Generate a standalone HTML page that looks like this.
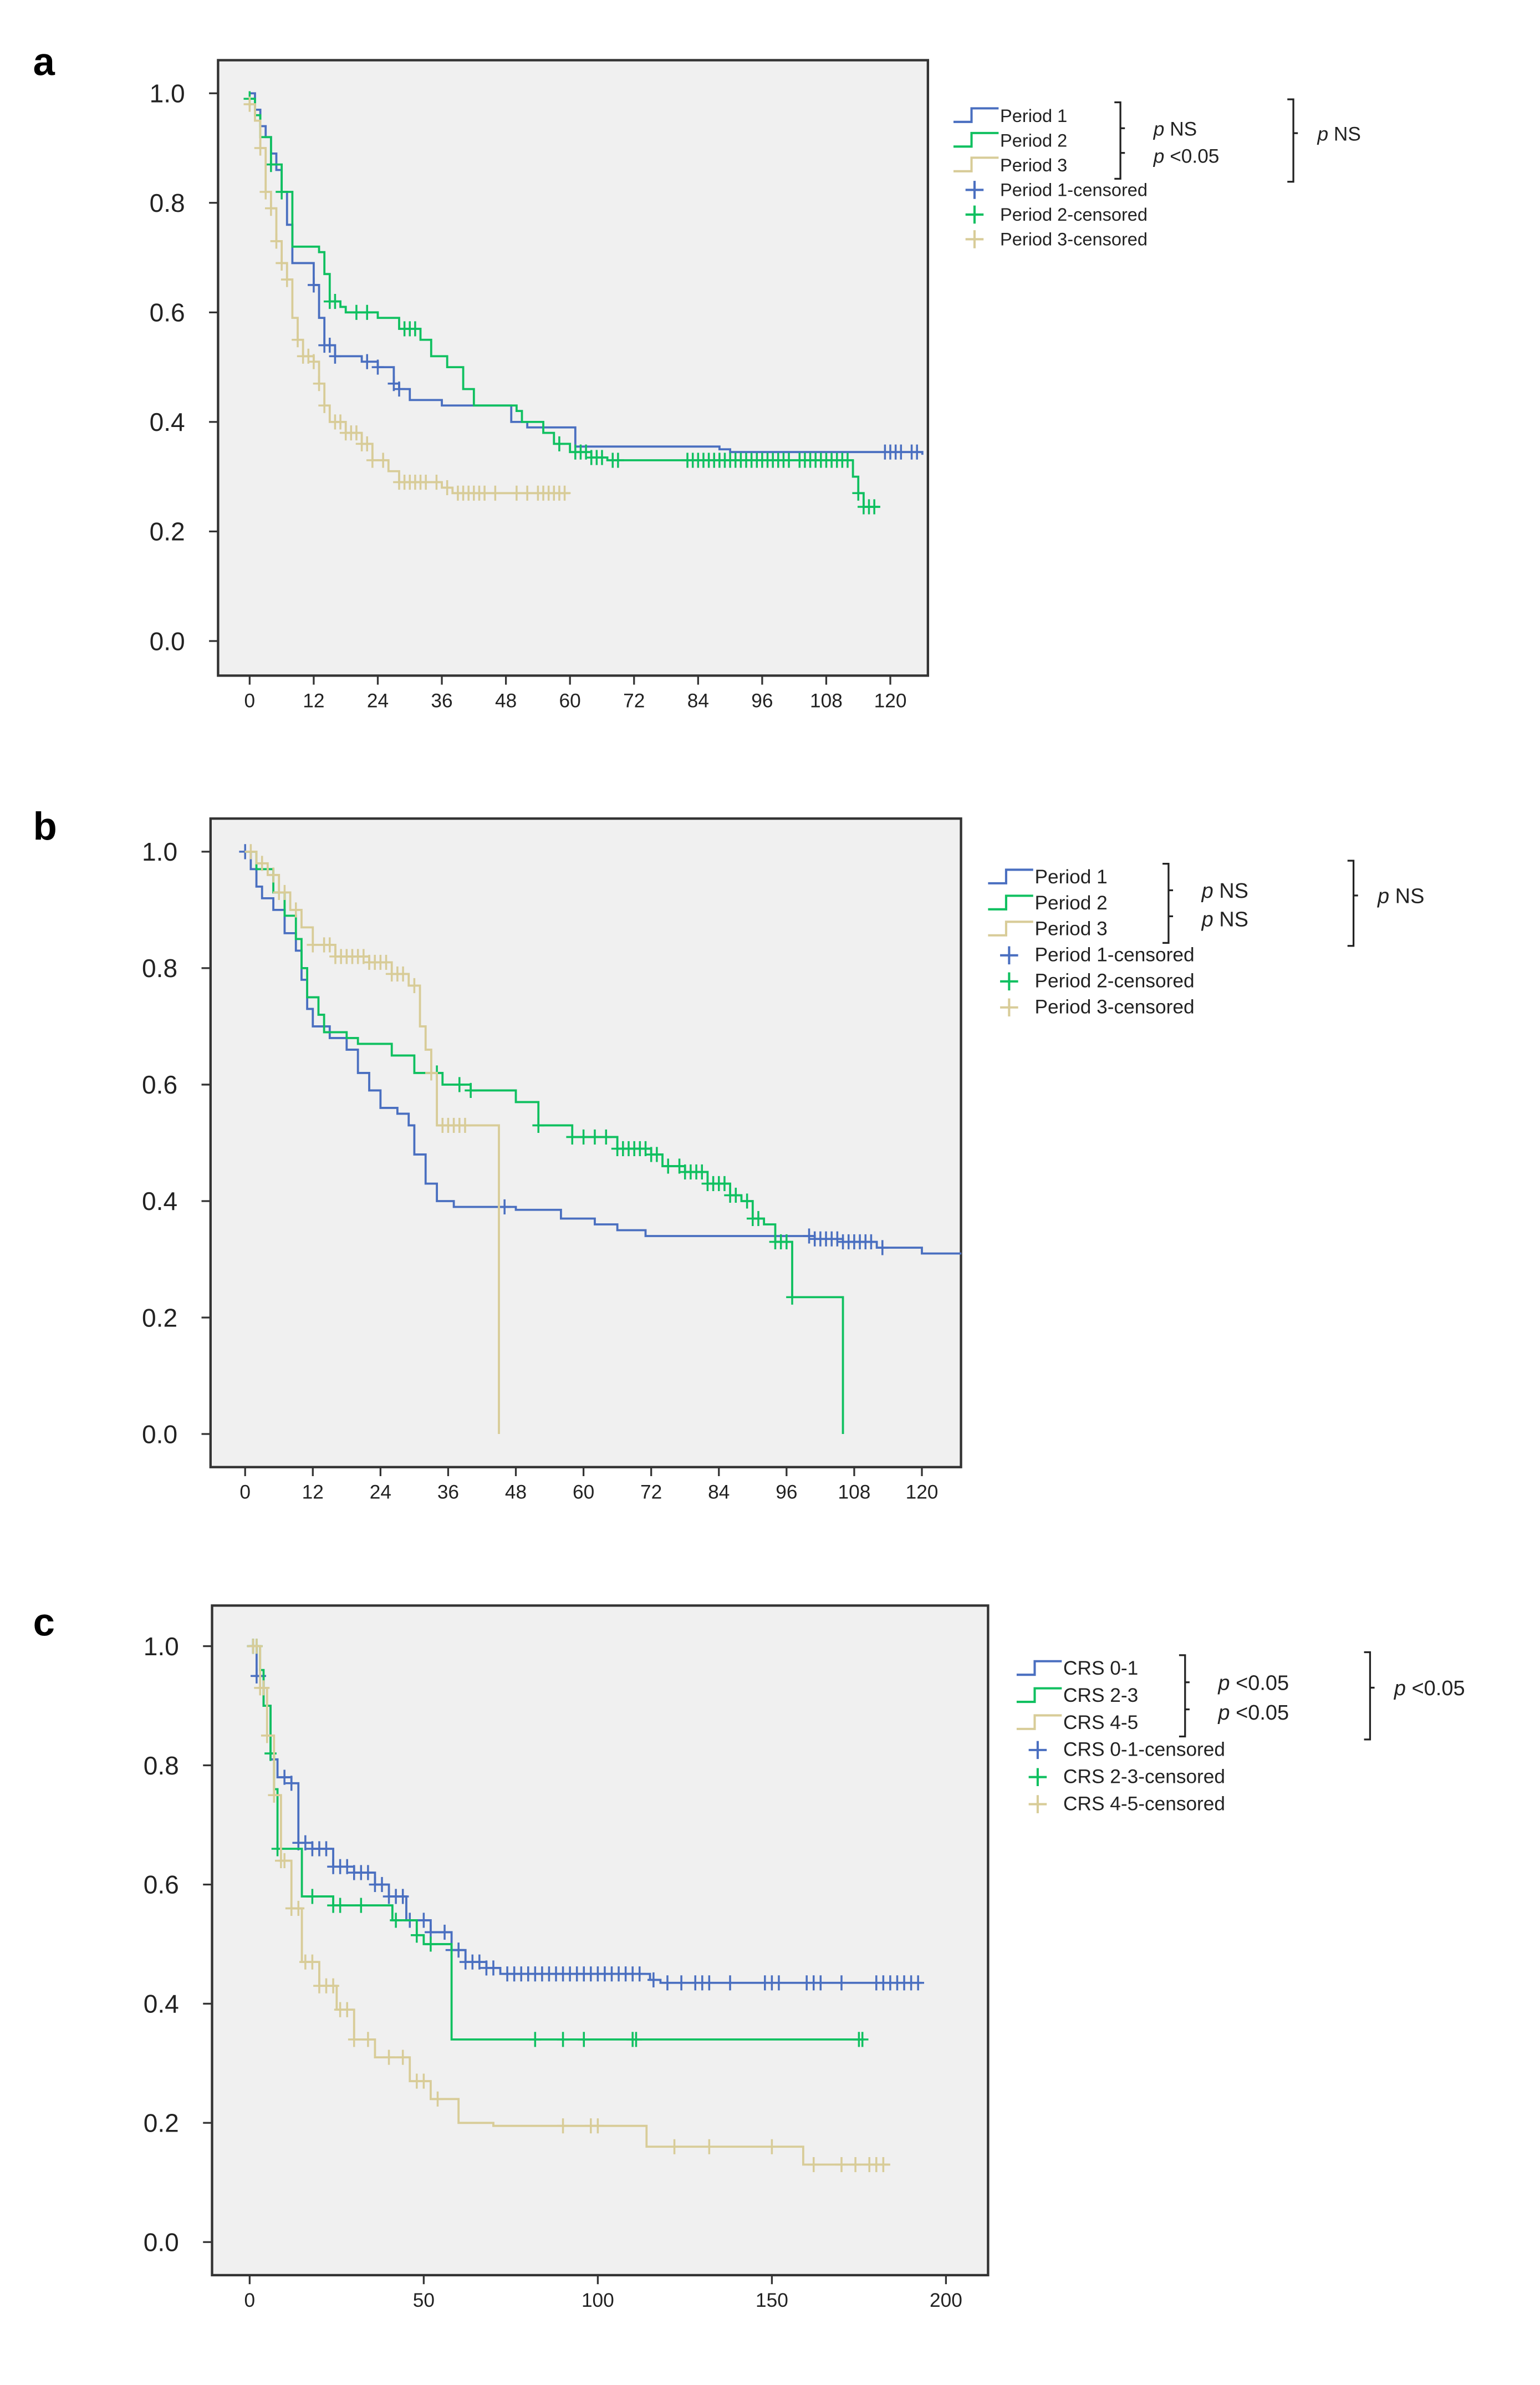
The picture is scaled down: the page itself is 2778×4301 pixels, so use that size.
<!DOCTYPE html>
<html><head><meta charset="utf-8"><style>
html,body{margin:0;padding:0;background:#fff;}
svg{display:block;}
text{font-family:"Liberation Sans",sans-serif;}
</style></head><body>
<svg id="fig" width="2778" height="4301" viewBox="0 0 1024 1585" preserveAspectRatio="none" xmlns="http://www.w3.org/2000/svg"></svg>
<script>
// ---------- DATA ----------
const aXTicks=[0,12,24,36,48,60,72,84,96,108,120];
const aYTicks=[0,0.2,0.4,0.6,0.8,1.0];
const aP1=[[0,1.0],[1,0.97],[2,0.94],[3,0.92],[4,0.89],[5,0.86],[6,0.82],[7,0.76],[8,0.69],[12,0.65],[13,0.59],[14,0.54],[16,0.52],[21,0.51],[24,0.50],[27,0.47],[28,0.46],[30,0.44],[33,0.44],[36,0.43],[49,0.40],[52,0.39],[60,0.39],[61,0.355],[88,0.35],[90,0.345],[126,0.34]];
const aP1c=[12,14,15,16,22,24,27,28,119,120,121,122,124,125];
const aP2=[[0,0.99],[1,0.96],[2,0.92],[4,0.87],[6,0.82],[8,0.72],[13,0.71],[14,0.67],[15,0.62],[17,0.61],[18,0.60],[24,0.59],[28,0.57],[32,0.55],[34,0.52],[37,0.50],[40,0.46],[42,0.43],[50,0.42],[51,0.40],[55,0.38],[57,0.36],[60,0.345],[64,0.335],[67,0.33],[113,0.30],[114,0.27],[115,0.245],[118,0.245]];
const aP2c=[0,4,6,15,16,20,22,29,30,31,58,61,62,63,64,65,66,68,69,82,83,84,85,86,87,88,89,90,91,92,93,94,95,96,97,98,99,100,101,103,104,105,106,107,108,109,110,111,112,114,115,116,117];
const aP3=[[0,0.98],[1,0.95],[2,0.90],[3,0.82],[4,0.79],[5,0.73],[6,0.69],[7,0.66],[8,0.59],[9,0.55],[10,0.52],[12,0.51],[13,0.47],[14,0.43],[15,0.40],[18,0.38],[21,0.36],[23,0.33],[26,0.31],[28,0.29],[36,0.28],[38,0.27],[60,0.27]];
const aP3c=[0,2,3,4,5,6,7,9,10,11,12,13,14,16,17,18,19,20,21,22,23,25,28,29,30,31,32,33,35,37,39,40,41,42,43,44,46,50,52,54,55,56,57,58,59];

const bXTicks=[0,12,24,36,48,60,72,84,96,108,120];
const bYTicks=[0,0.2,0.4,0.6,0.8,1.0];
const bP1=[[0,1.0],[1,0.97],[2,0.94],[3,0.92],[5,0.90],[7,0.86],[9,0.83],[10,0.78],[11,0.73],[12,0.70],[15,0.68],[18,0.66],[20,0.62],[22,0.59],[24,0.56],[27,0.55],[29,0.53],[30,0.48],[32,0.43],[34,0.40],[37,0.39],[48,0.385],[56,0.37],[62,0.36],[66,0.35],[71,0.34],[92,0.34],[101,0.335],[106,0.33],[112,0.32],[120,0.31],[127,0.31]];
const bP1c=[0,46,100,101,102,103,104,105,106,107,108,109,110,111,113];
const bP2=[[0,1.0],[2,0.97],[5,0.93],[7,0.89],[9,0.85],[10,0.80],[11,0.75],[13,0.72],[14,0.69],[18,0.68],[20,0.67],[26,0.65],[30,0.62],[35,0.60],[40,0.59],[48,0.57],[52,0.53],[58,0.51],[66,0.49],[72,0.48],[74,0.46],[78,0.45],[82,0.43],[86,0.41],[88,0.40],[90,0.37],[92,0.36],[94,0.33],[97,0.235],[106,0.235],[106,0]];
const bP2c=[34,38,40,52,58,60,62,64,66,67,68,69,70,71,72,73,75,77,78,79,80,81,82,83,84,85,86,87,89,90,91,94,95,96,97];
const bP3=[[0,1.0],[2,0.98],[4,0.96],[6,0.93],[8,0.90],[10,0.87],[12,0.84],[16,0.82],[22,0.81],[26,0.79],[29,0.77],[31,0.70],[32,0.66],[33,0.62],[34,0.53],[45,0.53],[45,0]];
const bP3c=[1,3,5,6,7,9,12,14,15,16,17,18,19,20,21,22,23,24,25,26,27,28,30,33,35,36,37,38,39];

const cXTicks=[0,50,100,150,200];
const cYTicks=[0,0.2,0.4,0.6,0.8,1.0];
const cS1=[[0,1.0],[2,0.95],[4,0.90],[6,0.81],[8,0.78],[12,0.77],[14,0.67],[18,0.66],[24,0.63],[30,0.62],[36,0.60],[40,0.58],[45,0.54],[52,0.52],[58,0.49],[62,0.47],[68,0.46],[72,0.45],[115,0.44],[118,0.435],[193,0.435]];
const cS1c=[1,2,3,10,12,14,16,18,20,22,24,26,28,30,32,34,36,38,40,42,44,46,50,52,56,58,60,62,64,66,68,70,74,76,78,80,82,84,86,88,90,92,94,96,98,100,102,104,106,108,110,112,116,120,124,128,130,132,138,148,150,152,160,162,164,170,180,182,184,186,188,190,192];
const cS2=[[0,1.0],[3,0.96],[4,0.90],[6,0.82],[7,0.76],[8,0.66],[14,0.66],[15,0.58],[23,0.58],[24,0.565],[40,0.565],[41,0.54],[48,0.515],[50,0.50],[56,0.50],[58,0.34],[176,0.34]];
const cS2c=[1,2,6,8,18,24,26,32,42,48,52,82,90,96,110,111,175,176];
const cS3=[[0,1.0],[3,0.93],[5,0.85],[7,0.75],[9,0.64],[12,0.56],[15,0.47],[20,0.43],[25,0.39],[30,0.34],[36,0.31],[46,0.27],[52,0.24],[60,0.20],[70,0.195],[112,0.195],[114,0.16],[158,0.16],[159,0.13],[184,0.13]];
const cS3c=[1,2,3,4,5,7,9,10,12,14,16,18,20,22,24,26,28,30,34,40,44,48,50,54,90,98,100,122,132,150,162,170,174,178,180,182];

// ---------- DRAW ----------
const svg=document.getElementById('fig');
const NS='http://www.w3.org/2000/svg';
const BLUE='#4a6fc0',GREEN='#10c060',YEL='#d8cc98';
function mk(tag,attrs,parent){const e=document.createElementNS(NS,tag);for(const k in attrs)e.setAttribute(k,attrs[k]);(parent||svg).appendChild(e);return e;}
function stepAt(d,t){let s=d[0][1];for(const p of d){if(p[0]<=t)s=p[1];else break;}return s;}

function panel(cfg){
  const g=mk('g',{});
  
  
  const fr=mk('rect',{x:cfg.fx0,y:cfg.fy0,width:cfg.fx1-cfg.fx0,height:cfg.fy1-cfg.fy0,fill:'#f0f0f0',stroke:'#333','stroke-width':1.6},g);
  
  
  const X=t=>cfg.x0+(cfg.x1-cfg.x0)*t/cfg.xmax;
  const Y=s=>cfg.y0+(cfg.y1-cfg.y0)*s;
  const lt=mk('text',{x:cfg.letterX,y:cfg.letterY,'font-size':26,'font-weight':'bold','font-family':'Liberation Serif, serif'},g);
  lt.textContent=cfg.letter;
  
  
  for(const v of cfg.yt){
    const tk=mk('line',{x1:cfg.fx0-6,x2:cfg.fx0,y1:Y(v),y2:Y(v),stroke:'#333','stroke-width':1.2},g);
    
    
    const tx=mk('text',{x:cfg.fx0-22,y:Y(v)+6,'font-size':17,'text-anchor':'end',fill:'#222'},g);
    tx.textContent=v.toFixed(1);
    
    
  }
  for(const v of cfg.xt){
    const tk=mk('line',{x1:X(v),x2:X(v),y1:cfg.fy1,y2:cfg.fy1+6,stroke:'#333','stroke-width':1.2},g);
    
    
    const tx=mk('text',{x:X(v),y:cfg.fy1+21,'font-size':13,'text-anchor':'middle',fill:'#222'},g);
    tx.textContent=String(v);
    
    
  }
  cfg.series.forEach(sr=>{
    let d='M'+X(sr.d[0][0])+','+Y(sr.d[0][1]);
    let prev=sr.d[0][1];
    for(let i=1;i<sr.d.length;i++){const p=sr.d[i];d+=' L'+X(p[0])+','+Y(prev)+' L'+X(p[0])+','+Y(p[1]);prev=p[1];}
    const pa=mk('path',{d:d,fill:'none',stroke:sr.col,'stroke-width':1.4},g);
    
    
    for(const t of sr.c){
      const cx=X(t),cy=Y(stepAt(sr.d,t));
      const cm=mk('path',{d:'M'+(cx-4)+','+cy+' h8 M'+cx+','+(cy-5)+' v10',stroke:sr.col,'stroke-width':1.3,fill:'none'},g);
      
      
    }
  });
  // legend
  const L=cfg.leg;
  cfg.series.forEach((sr,i)=>{
    const y=L.y+i*L.dy;
    const ic=mk('path',{d:'M'+L.x+','+(y+4)+' h12 v-9 h18',fill:'none',stroke:sr.col,'stroke-width':1.5},g);
    
    
    const tx=mk('text',{x:L.x+31,y:y+4,'font-size':L.fs,fill:'#222'},g);
    tx.textContent=sr.label;
    
    
  });
  cfg.series.forEach((sr,i)=>{
    const y=L.y+(i+3)*L.dy;
    const cx=L.x+14;
    const ic=mk('path',{d:'M'+(cx-6)+','+y+' h12 M'+cx+','+(y-6)+' v12',stroke:sr.col,'stroke-width':1.5,fill:'none'},g);
    
    
    const tx=mk('text',{x:L.x+31,y:y+4,'font-size':L.fs,fill:'#222'},g);
    tx.textContent=sr.label+'-censored';
    
    
  });
  // brackets
  const bx=L.bx, ytop=L.y-9, ybot=L.y+2*L.dy+9;
  const br=mk('path',{d:'M'+(bx-4)+','+ytop+' h4 v'+(ybot-ytop)+' h-4 M'+bx+','+(L.y+L.dy*0.5)+' h3 M'+bx+','+(L.y+L.dy*1.5)+' h3',fill:'none',stroke:'#222','stroke-width':1.2},g);
  
  
  const br2=mk('path',{d:'M'+(L.bx2-4)+','+(ytop-2)+' h4 v'+(ybot-ytop+4)+' h-4 M'+L.bx2+','+(L.y+L.dy*0.7)+' h3',fill:'none',stroke:'#222','stroke-width':1.2},g);
  
  
  [[L.p1,L.y+L.dy*0.5+5],[L.p2,L.y+L.dy*1.6+5]].forEach(([t,y])=>{
    const tx=mk('text',{x:bx+22,y:y,'font-size':L.fs+1,fill:'#222'},g);
    tx.innerHTML='<tspan font-style="italic">p</tspan> '+t;
    
    
  });
  const tx=mk('text',{x:L.bx2+16,y:L.y+L.dy*0.7+5,'font-size':L.fs+1,fill:'#222'},g);
  tx.innerHTML='<tspan font-style="italic">p</tspan> '+L.p3;
  
  
}

panel({name:'panel-a',letter:'a',letterX:22,letterY:50,fx0:145,fx1:617,fy0:40,fy1:449,x0:166,x1:592,xmax:120,y0:426,y1:62,xt:aXTicks,yt:aYTicks,
  series:[{name:'period-1',label:'Period 1',col:BLUE,d:aP1,c:aP1c},{name:'period-2',label:'Period 2',col:GREEN,d:aP2,c:aP2c},{name:'period-3',label:'Period 3',col:YEL,d:aP3,c:aP3c}],
  leg:{x:634,y:77,dy:16.4,fs:12,bx:745,bx2:860,p1:'NS',p2:'<0.05',p3:'NS'}});
panel({name:'panel-b',letter:'b',letterX:22,letterY:558,fx0:140,fx1:639,fy0:544,fy1:975,x0:163,x1:613,xmax:120,y0:953,y1:566,xt:bXTicks,yt:bYTicks,
  series:[{name:'period-1',label:'Period 1',col:BLUE,d:bP1,c:bP1c},{name:'period-2',label:'Period 2',col:GREEN,d:bP2,c:bP2c},{name:'period-3',label:'Period 3',col:YEL,d:bP3,c:bP3c}],
  leg:{x:657,y:583,dy:17.3,fs:13,bx:777,bx2:900,p1:'NS',p2:'NS',p3:'NS'}});
panel({name:'panel-c',letter:'c',letterX:22,letterY:1087,fx0:141,fx1:657,fy0:1067,fy1:1512,x0:166,x1:629,xmax:200,y0:1490,y1:1094,xt:cXTicks,yt:cYTicks,
  series:[{name:'crs-0-1',label:'CRS 0-1',col:BLUE,d:cS1,c:cS1c},{name:'crs-2-3',label:'CRS 2-3',col:GREEN,d:cS2,c:cS2c},{name:'crs-4-5',label:'CRS 4-5',col:YEL,d:cS3,c:cS3c}],
  leg:{x:676,y:1109,dy:18,fs:13,bx:788,bx2:911,p1:'<0.05',p2:'<0.05',p3:'<0.05'}});
</script>
</body></html>
